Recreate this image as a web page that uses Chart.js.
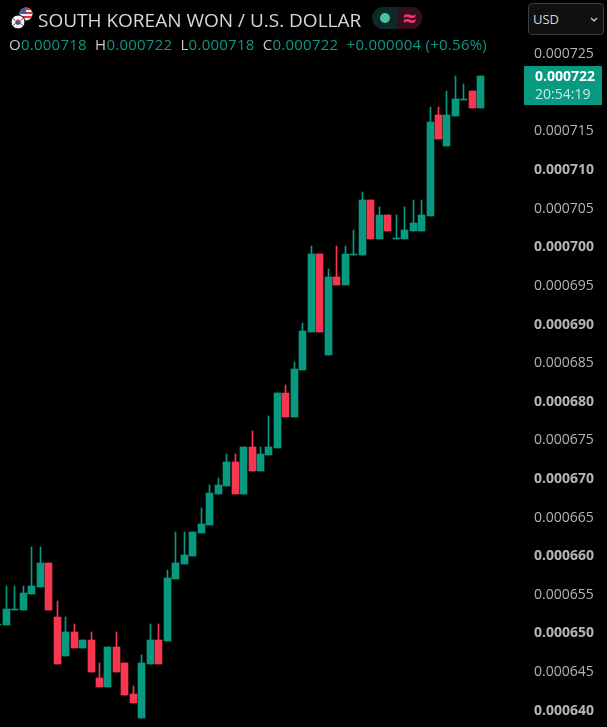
<!DOCTYPE html>
<html lang="en">
<head>
    <meta charset="UTF-8">
    <title>South Korean Won / U.S. Dollar</title>
    <script src="https://cdn.jsdelivr.net/npm/chart.js"></script>
    <style>
        body { margin: 0; background: #000; font-family: "Open Sans", sans-serif; }
        #wrap { position: relative; width: 607px; height: 727px; overflow: hidden; }
        canvas { position: absolute; left: 0; top: 0; }
        .abs { position: absolute; white-space: nowrap; }
        #title { left: 38px; top: 7px; font-size: 19px; line-height: 26px; color: #d6d6d6; }
        #ohlc { left: 9px; top: 35px; font-size: 15px; line-height: 18px; color: #089981; letter-spacing: 0.25px; }
        #ohlc b { font-weight: 400; color: #c8c8c8; }
        #ohlc span { margin-right: 4px; }
        #flags { left: 8px; top: 6px; }
        #pill { left: 372px; top: 7px; width: 50px; height: 22px; border-radius: 11px; overflow: hidden; background: #0c2a26; }
        #pill i { position: absolute; left: 8px; top: 6px; width: 10px; height: 10px; border-radius: 50%; background: #4dbfa6; }
        #pill u { position: absolute; left: 25px; top: 0; width: 25px; height: 22px; background: #35101c; color: #f5337a; font-size: 24px; line-height: 21px; text-align: center; text-decoration: none; font-weight: 700; }
        #usd { left: 528px; top: 3px; width: 74px; height: 30px; border: 1px solid #3d3d3d; border-radius: 4px; background: #101010; color: #d6d6d6; font-size: 13px; line-height: 31px; text-indent: 4px; }
        #usd svg { position: absolute; left: 60px; top: 12px; }
        #tag { left: 524px; top: 66px; width: 67px; height: 39px; padding-left: 11px; background: #089981; border-radius: 1px; font-size: 14px; line-height: 18px; padding-top: 1px; color: #c9ebe4; height: 38px; }
        #tag div:first-child { color: #fff; font-weight: 700; }
    </style>
</head>
<body>
<div id="wrap">
    <canvas id="chart" width="607" height="727"></canvas>

    <svg id="flags" class="abs" width="26" height="26" viewBox="0 0 26 26">
        <defs><clipPath id="us"><circle cx="18" cy="8" r="6.5"/></clipPath></defs>
        <g clip-path="url(#us)">
            <rect x="10" y="0" width="16" height="16" fill="#eee"/>
            <rect x="10" y="2" width="16" height="2" fill="#e0313f"/>
            <rect x="10" y="6" width="16" height="2" fill="#e0313f"/>
            <rect x="10" y="10" width="16" height="2" fill="#e0313f"/>
            <rect x="10" y="0" width="8" height="8" fill="#3a5fa8"/>
        </g>
        <circle cx="10" cy="16" r="7" fill="#f2f2f2" stroke="#000" stroke-width="1"/>
        <circle cx="10" cy="16" r="2.6" fill="#d8344a"/>
        <path d="M7.4 16a2.6 2.6 0 0 0 5.2 0z" fill="#2f5aa8"/>
        <path d="M5 12.5l2 2M15 12.5l-2 2M5 19.5l2-2M15 19.5l-2-2" stroke="#333" stroke-width="1"/>
    </svg>
    <div id="title" class="abs">SOUTH KOREAN WON / U.S. DOLLAR</div>
    <div id="pill" class="abs"><i></i><u>≈</u></div>
    <div id="ohlc" class="abs"><span><b>O</b>0.000718</span> <span><b>H</b>0.000722</span> <span><b>L</b>0.000718</span> <span><b>C</b>0.000722</span> +0.000004 (+0.56%)</div>
    <div id="usd" class="abs">USD<svg width="10" height="8" viewBox="0 0 10 8"><path d="M2 2l3 3 3-3" fill="none" stroke="#d6d6d6" stroke-width="1.2"/></svg></div>
    <div id="tag" class="abs"><div>0.000722</div><div>20:54:19</div></div>
</div>

<script>
    // candles, oldest first
    const opens = [
        0.000651, 0.000651, 0.000653, 0.000653, 0.000655, 0.000656, 0.000659, 0.000652, 0.000647, 0.000650,
        0.000648, 0.000649, 0.000644, 0.000643, 0.000648, 0.000646, 0.000642, 0.000639, 0.000646, 0.000649,
        0.000649, 0.000657, 0.000659, 0.000660, 0.000663, 0.000664, 0.000668, 0.000669, 0.000672, 0.000668,
        0.000674, 0.000671, 0.000673, 0.000674, 0.000681, 0.000678, 0.000684, 0.000689, 0.000699, 0.000686,
        0.000696, 0.000695, 0.000699, 0.000699, 0.000706, 0.000701, 0.000704, 0.000701, 0.000701, 0.000702,
        0.000702, 0.000704, 0.000717, 0.000713, 0.000717, 0.000719, 0.000720, 0.000718
    ];
    const closes = [
        0.000651, 0.000653, 0.000653, 0.000655, 0.000656, 0.000659, 0.000653, 0.000646, 0.000650, 0.000648,
        0.000649, 0.000645, 0.000643, 0.000648, 0.000645, 0.000642, 0.000641, 0.000646, 0.000649, 0.000646,
        0.000657, 0.000659, 0.000660, 0.000663, 0.000664, 0.000668, 0.000669, 0.000672, 0.000668, 0.000674,
        0.000671, 0.000673, 0.000674, 0.000681, 0.000678, 0.000684, 0.000689, 0.000699, 0.000689, 0.000696,
        0.000695, 0.000699, 0.000699, 0.000706, 0.000701, 0.000704, 0.000702, 0.000701, 0.000702, 0.000703,
        0.000704, 0.000716, 0.000714, 0.000717, 0.000719, 0.000719, 0.000718, 0.000722
    ];
    const highs = [
        0.000651, 0.000656, 0.000656, 0.000656, 0.000661, 0.000661, 0.000659, 0.000654, 0.000652, 0.000651,
        0.000649, 0.000650, 0.000646, 0.000648, 0.000650, 0.000646, 0.000643, 0.000647, 0.000651, 0.000651,
        0.000658, 0.000663, 0.000663, 0.000663, 0.000666, 0.000669, 0.000670, 0.000673, 0.000673, 0.000674,
        0.000676, 0.000674, 0.000678, 0.000681, 0.000682, 0.000685, 0.000690, 0.000700, 0.000699, 0.000697,
        0.000700, 0.000700, 0.000702, 0.000707, 0.000706, 0.000705, 0.000704, 0.000704, 0.000705, 0.000706,
        0.000706, 0.000718, 0.000718, 0.000720, 0.000722, 0.000721, 0.000720, 0.000722
    ];
    const lows = [
        0.000651, 0.000651, 0.000653, 0.000653, 0.000655, 0.000656, 0.000653, 0.000646, 0.000647, 0.000648,
        0.000648, 0.000645, 0.000643, 0.000643, 0.000645, 0.000642, 0.000641, 0.000639, 0.000646, 0.000646,
        0.000649, 0.000657, 0.000659, 0.000660, 0.000663, 0.000664, 0.000668, 0.000669, 0.000668, 0.000668,
        0.000671, 0.000671, 0.000673, 0.000674, 0.000678, 0.000678, 0.000684, 0.000689, 0.000689, 0.000686,
        0.000695, 0.000695, 0.000699, 0.000699, 0.000701, 0.000701, 0.000702, 0.000701, 0.000701, 0.000702,
        0.000702, 0.000704, 0.000714, 0.000713, 0.000717, 0.000719, 0.000718, 0.000718
    ];
    const priceTicks = [
        0.000725, 0.000715, 0.000710, 0.000705, 0.000700, 0.000695, 0.000690, 0.000685, 0.000680,
        0.000675, 0.000670, 0.000665, 0.000660, 0.000655, 0.000650, 0.000645, 0.000640
    ];

    const upColor = '#089981';
    const downColor = '#f7374f';
    const candleColors = opens.map((o, i) => closes[i] >= o ? upColor : downColor);

    // layout of the price scale and of the candle spacing on the page
    const plotRight = 523;
    const firstCandle = -2.22;
    const candleStep = 8.475;
    // labels sit a bit under their price line in the original
    const labelNudge = 0.00000019;

    // lightweight rounding so bars stay crisp, bottom pixel is inclusive like the original
    const snapBars = {
        id: 'snapBars',
        afterDatasetsUpdate(chart) {
            chart.data.datasets.forEach((ds, i) => {
                chart.getDatasetMeta(i).data.forEach(bar => {
                    bar.x = Math.floor(bar.x) + 0.5;
                    bar.y = Math.round(bar.y);
                    bar.base = Math.round(bar.base) + 1;
                    bar.height = bar.base - bar.y;
                });
            });
        }
    };

    new Chart(document.getElementById('chart'), {
        type: 'bar',
        data: {
            datasets: [
                {
                    label: 'wicks',
                    data: opens.map((o, i) => ({ x: i, y: [lows[i], highs[i]] })),
                    backgroundColor: candleColors,
                    barThickness: 1,
                    grouped: false
                },
                {
                    label: 'bodies',
                    data: opens.map((o, i) => ({ x: i, y: [Math.min(o, closes[i]), Math.max(o, closes[i])] })),
                    backgroundColor: candleColors,
                    barThickness: 7,
                    grouped: false
                }
            ]
        },
        options: {
            responsive: false,
            animation: false,
            layout: { padding: 0 },
            plugins: { legend: { display: false }, tooltip: { enabled: false } },
            scales: {
                x: {
                    type: 'linear',
                    offset: false,
                    display: false,
                    min: -firstCandle / candleStep,
                    max: (plotRight - firstCandle) / candleStep
                },
                y: {
                    position: 'right',
                    min: 0.00063770,
                    max: 0.00073184,
                    border: { display: false },
                    grid: { display: false, drawTicks: false },
                    afterBuildTicks(scale) {
                        scale.ticks = priceTicks.map(v => ({ value: v - labelNudge }));
                    },
                    afterFit(scale) {
                        scale.width = 607 - plotRight;
                        scale.paddingTop = 0;
                        scale.paddingBottom = 0;
                    },
                    ticks: {
                        autoSkip: false,
                        padding: 11,
                        crossAlign: 'near',
                        color: '#b4b4b4',
                        font: ctx => ({
                            family: '"Open Sans", sans-serif',
                            size: 14,
                            weight: ctx.tick && Math.round(ctx.tick.value * 1e6) % 10 === 0 ? 'bold' : 'normal'
                        }),
                        callback: v => v.toFixed(6)
                    }
                }
            }
        },
        plugins: [snapBars]
    });
</script>
</body>
</html>
